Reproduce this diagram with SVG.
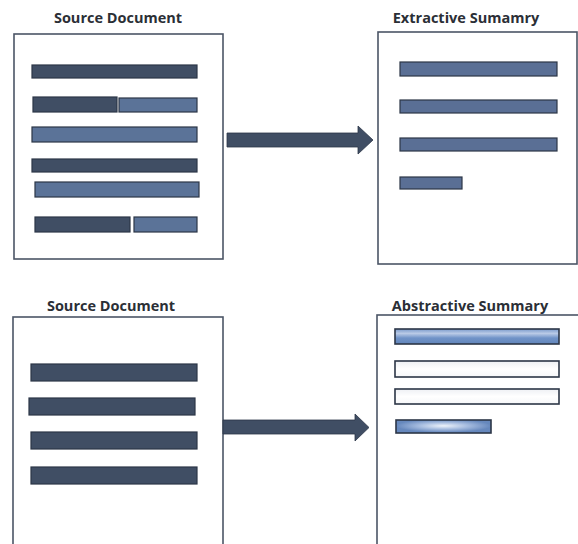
<svg xmlns="http://www.w3.org/2000/svg" width="578" height="544" viewBox="0 0 578 544">
<style>
.doc{fill:#ffffff;stroke:#4b5566;stroke-width:1.6}
.title{font-family:"Open Sans","Liberation Sans",sans-serif;font-weight:bold;font-size:14.5px;fill:#2b2f36}
.dk{fill:#404e64;stroke:#2c3647;stroke-width:1.2}
.lt{fill:#5b7398;stroke:#2c3647;stroke-width:1.2}
.md{fill:#5a6f95;stroke:#2c3647;stroke-width:1.2}
.ab{stroke:#2c3647;stroke-width:1.6}
.arrow{fill:#404e64;stroke:#2c3647;stroke-width:0.8}
</style>
<defs>
<linearGradient id="gBlue" x1="0" y1="0" x2="0" y2="1">
<stop offset="0" stop-color="#7b9bcc"/>
<stop offset="0.3" stop-color="#b9cae6"/>
<stop offset="0.6" stop-color="#7093c8"/>
<stop offset="1" stop-color="#6285ba"/>
</linearGradient>
<radialGradient id="gShort" cx="0.5" cy="0.45" r="0.5">
<stop offset="0" stop-color="#eef3fa"/>
<stop offset="0.5" stop-color="#a7bde0"/>
<stop offset="1" stop-color="#6688bd"/>
</radialGradient>
<linearGradient id="gWhite" x1="0" y1="0" x2="0" y2="1">
<stop offset="0" stop-color="#eef0f4"/>
<stop offset="0.5" stop-color="#ffffff"/>
<stop offset="1" stop-color="#f6f7f9"/>
</linearGradient>
</defs>

<g id="source-doc-1">
<text class="title" x="118" y="23" text-anchor="middle">Source Document</text>
<rect class="doc" x="14" y="34" width="209" height="225"/>
<rect class="dk" x="32" y="65" width="165" height="13"/>
<rect class="dk" x="33" y="97" width="84" height="15"/>
<rect class="lt" x="119" y="98" width="78" height="14"/>
<rect class="lt" x="32" y="127" width="165" height="15"/>
<rect class="dk" x="32" y="159" width="165" height="13"/>
<rect class="lt" x="35" y="182" width="164" height="15"/>
<rect class="dk" x="35" y="217" width="95" height="15"/>
<rect class="lt" x="134" y="217" width="63" height="15"/>
</g>

<g id="extractive-summary">
<text class="title" x="466" y="23" text-anchor="middle">Extractive Sumamry</text>
<rect class="doc" x="378" y="32" width="199" height="232"/>
<rect class="md" x="400" y="62" width="157" height="14"/>
<rect class="md" x="400" y="100" width="157" height="13"/>
<rect class="md" x="400" y="138" width="157" height="13"/>
<rect class="md" x="400" y="177" width="62" height="12"/>
</g>

<g id="source-doc-2">
<text class="title" x="111" y="311" text-anchor="middle">Source Document</text>
<rect class="doc" x="13" y="317" width="210" height="240"/>
<rect class="dk" x="31" y="364" width="166" height="17"/>
<rect class="dk" x="29" y="398" width="166" height="17"/>
<rect class="dk" x="31" y="432" width="166" height="17"/>
<rect class="dk" x="31" y="467" width="166" height="17"/>
</g>

<g id="abstractive-summary">
<text class="title" x="470" y="311" text-anchor="middle">Abstractive Summary</text>
<rect class="doc" x="377" y="315" width="210" height="240"/>
<rect class="ab" x="395" y="329" width="164" height="15" fill="url(#gBlue)"/>
<rect class="ab" x="395" y="361" width="164" height="16" fill="url(#gWhite)"/>
<rect class="ab" x="395" y="389" width="164" height="15" fill="url(#gWhite)"/>
<rect class="ab" x="396" y="420" width="95" height="13" fill="url(#gShort)"/>
</g>

<g id="connectors">
<polygon class="arrow" points="227,133 358,133 358,126 373,140 358,154 358,147 227,147"/>
<polygon class="arrow" points="223,420 355,420 355,414 369,427.5 355,441 355,434 223,434"/>
</g>
</svg>
